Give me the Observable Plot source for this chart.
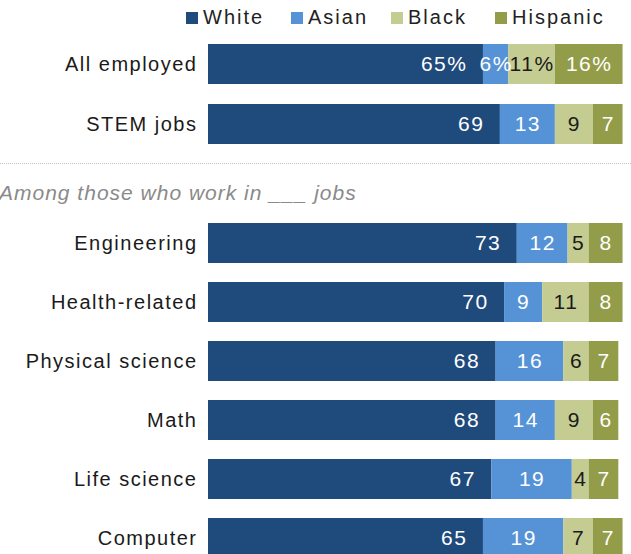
<!DOCTYPE html>
<html>
<head>
<meta charset="utf-8">
<script src="https://cdn.jsdelivr.net/npm/d3@7"></script>
<script src="https://cdn.jsdelivr.net/npm/@observablehq/plot@0.6"></script>
<style>
  body { margin: 0; background: #fff; font-family: "Liberation Sans", Arial, sans-serif; width: 631px; height: 554px; overflow: hidden; }
  #legend { height: 34px; position: relative; font-size: 20px; color: #222; letter-spacing: 2px; }
  .lg { position: absolute; top: 6px; display: flex; align-items: center; }
  .lg span.sw { width: 12px; height: 12px; display: inline-block; margin-right: 5px; }
  #divider { height: 58px; position: relative; }
  #divider .line { position: absolute; top: 9px; left: 0; width: 631px; border-top: 1px dotted #c4c4c4; }
  #divider .sub { position: absolute; top: 27px; left: -1px; font-style: italic; color: #8a8a8a; font-size: 21px; letter-spacing: 1px; }
  svg { display: block; }
</style>
</head>
<body>
<div id="legend"></div>
<div id="top"></div>
<div id="divider"><div class="line"></div><div class="sub">Among those who work in ___ jobs</div></div>
<div id="bottom"></div>
<script>
const groups = ["White", "Asian", "Black", "Hispanic"];
const colors = ["#1f4a7c", "#5592d6", "#c4cc92", "#939c48"];
const labelColors = ["#ffffff", "#ffffff", "#1a1a1a", "#ffffff"];

const topCategories = ["All employed", "STEM jobs"];
const topWhite = [65, 69];
const topAsian = [6, 13];
const topBlack = [11, 9];
const topHispanic = [16, 7];

const bottomCategories = ["Engineering", "Health-related", "Physical science", "Math", "Life science", "Computer"];
const bottomWhite = [73, 70, 68, 68, 67, 65];
const bottomAsian = [12, 9, 16, 14, 19, 19];
const bottomBlack = [5, 11, 6, 9, 4, 7];
const bottomHispanic = [8, 8, 7, 6, 7, 7];

// legend
const legendX = [186, 291, 391, 495];
const legend = document.getElementById("legend");
groups.forEach((g, i) => {
  const d = document.createElement("div");
  d.className = "lg";
  d.style.left = legendX[i] + "px";
  d.innerHTML = `<span class="sw" style="background:${colors[i]}"></span>${g}`;
  legend.appendChild(d);
});

function make(cats, series, height, pctFirst) {
  const rows = [];
  cats.forEach((c, j) => groups.forEach((g, i) => rows.push({cat: c, group: g, value: series[i][j], first: j === 0})));
  const fmt = d => (pctFirst && d.first) ? d.value + "%" : String(d.value);
  return Plot.plot({
    width: 631, height,
    marginLeft: 208, marginRight: 0, marginTop: 0, marginBottom: 0,
    x: {domain: [0, 100], axis: null},
    y: {domain: cats, paddingInner: 0.33, paddingOuter: 0.165, axis: null},
    color: {domain: groups, range: colors},
    style: {fontFamily: "'Liberation Sans', Arial, sans-serif", background: "transparent", letterSpacing: "1.5px"},
    marks: [
      Plot.axisY({tickSize: 0, tickPadding: 11, fontSize: 20, label: null, fill: "#1a1a1a"}),
      Plot.barX(rows, Plot.stackX({y: "cat", x: "value", fill: "group", order: groups})),
      Plot.text(rows, Plot.stackX2({
        y: "cat", x: "value", z: "group", order: groups,
        text: d => d.group === "White" ? fmt(d) : null,
        textAnchor: "end", dx: -16, fill: "#ffffff", fontSize: 21
      })),
      Plot.text(rows, Plot.stackX({
        y: "cat", x: "value", z: "group", order: groups,
        text: d => d.group === "White" ? null : fmt(d),
        fill: d => labelColors[groups.indexOf(d.group)], fontSize: 21
      }))
    ]
  });
}
document.getElementById("top").appendChild(make(topCategories, [topWhite, topAsian, topBlack, topHispanic], 120, true));
document.getElementById("bottom").appendChild(make(bottomCategories, [bottomWhite, bottomAsian, bottomBlack, bottomHispanic], 356, false));
</script>
</body>
</html>
